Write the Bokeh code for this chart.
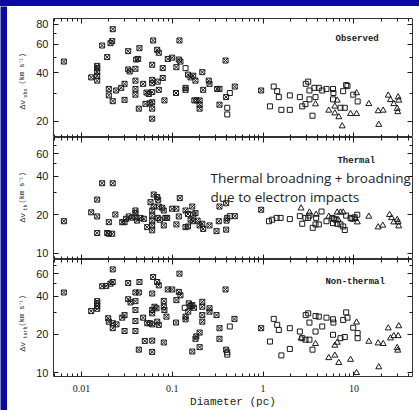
import math
from bokeh.plotting import figure
from bokeh.models import Range1d, LogAxis, FixedTicker, NumeralTickFormatter, Label, CustomJSTickFormatter, Div
from bokeh.layouts import column, row
from bokeh.embed import file_html
from bokeh.resources import INLINE
from bokeh.core.properties import value

# ---------------- data (diameter in pc, line width in km/s) ----------------
OBS_CLUMP = [(0.0064, 47.0), (0.0128, 37.5), (0.0149, 44.2), (0.0149, 42.8), (0.0149, 40.4), (0.0149, 38.4), (0.0149, 35.8),
             (0.0169, 59.1), (0.0192, 50.1), (0.0200, 31.8), (0.0200, 29.0), (0.0221, 26.7), (0.0209, 61.1), (0.0218, 62.9), (0.0221, 74.6),
             (0.0241, 31.1), (0.0274, 32.3), (0.0298, 34.2), (0.0298, 27.2), (0.0327, 54.5), (0.0327, 42.0), (0.0340, 40.8),
             (0.0393, 42.4), (0.0393, 35.8), (0.0393, 31.8), (0.0393, 29.3), (0.0400, 48.4), (0.0421, 48.8), (0.0435, 56.9), (0.0428, 24.0),
             (0.0478, 34.2), (0.0507, 25.7), (0.0520, 30.2), (0.0551, 29.6), (0.0565, 25.9),
             (0.0601, 44.9), (0.0601, 36.2), (0.0601, 34.5), (0.0601, 30.4), (0.0601, 26.3), (0.0601, 24.0), (0.0601, 20.8),
             (0.0616, 63.5), (0.0682, 55.6), (0.0710, 53.3), (0.0692, 35.3), (0.0710, 31.4), (0.0785, 37.2), (0.0785, 42.8), (0.0820, 27.0),
             (0.0892, 48.8), (0.0997, 49.7), (0.110, 30.0), (0.111, 43.4), (0.118, 48.4), (0.123, 47.0), (0.120, 63.5),
             (0.140, 32.3), (0.140, 31.4), (0.149, 39.0), (0.159, 37.5), (0.170, 38.4), (0.180, 35.8),
             (0.175, 27.0), (0.185, 27.0), (0.200, 27.0), (0.200, 25.4), (0.200, 24.0),
             (0.219, 31.4), (0.214, 40.4), (0.252, 35.8), (0.257, 34.2), (0.312, 31.8), (0.331, 31.8), (0.331, 25.4),
             (0.386, 47.7), (0.392, 28.3), (0.488, 32.9), (0.953, 31.1)]
OBS_SQ = [(0.140, 42.8), (0.430, 30.0), (0.403, 24.3), (0.403, 22.1), (1.31, 32.9), (1.43, 30.8), (1.49, 28.3), (1.19, 24.8),
          (1.59, 23.6), (1.97, 23.6), (1.97, 29.0), (2.54, 28.3), (2.70, 24.8), (2.93, 25.6), (2.95, 34.2), (3.14, 35.3),
          (3.24, 31.1), (3.24, 27.4), (3.78, 28.3), (3.68, 32.3), (4.11, 32.3), (4.48, 31.1), (4.99, 31.8), (3.50, 21.7),
          (5.89, 31.8), (5.95, 30.0), (5.89, 27.4), (7.12, 24.3), (7.94, 24.3), (7.62, 30.8), (8.22, 33.6), (8.50, 33.2),
          (9.83, 29.3), (11.0, 26.6)]
OBS_TRI = [(3.78, 25.6), (6.55, 27.0), (6.17, 24.8), (5.29, 23.4), (6.17, 22.5), (6.82, 21.3), (7.43, 18.7), (10.7, 30.0),
           (9.18, 22.3), (10.7, 22.3), (14.6, 25.7), (18.5, 23.2), (21.0, 23.4), (18.8, 19.1), (23.9, 29.0), (25.3, 27.2),
           (27.5, 25.7), (30.7, 28.3), (31.2, 27.0), (30.0, 24.0), (30.4, 22.9)]

TH_CLUMP = [(0.0064, 17.8), (0.0128, 20.9), (0.0149, 19.4), (0.0149, 26.3), (0.0149, 14.4), (0.0169, 35.3), (0.0221, 35.3),
            (0.0192, 14.4), (0.0200, 14.2), (0.0218, 14.2), (0.0200, 17.5), (0.0236, 20.1), (0.0281, 17.5), (0.0298, 17.5),
            (0.0310, 18.6), (0.0332, 19.4), (0.0362, 19.0), (0.0393, 19.1), (0.0393, 21.6), (0.0393, 20.6), (0.0410, 18.0),
            (0.0447, 18.9), (0.0486, 18.6), (0.0529, 16.0), (0.0576, 25.1),
            (0.0601, 21.6), (0.0601, 19.7), (0.0601, 18.0), (0.0601, 16.5), (0.0601, 15.1),
            (0.0625, 28.8), (0.0682, 27.5), (0.0700, 26.2), (0.0625, 23.2), (0.0710, 23.2), (0.0775, 22.7), (0.0692, 18.9), (0.0728, 18.3),
            (0.0806, 21.6), (0.0841, 18.9), (0.0879, 18.9), (0.0806, 16.5), (0.0997, 22.3), (0.111, 22.3), (0.111, 16.8), (0.121, 27.0),
            (0.118, 19.4), (0.140, 21.6), (0.149, 20.3), (0.140, 16.0), (0.149, 16.2), (0.166, 23.2), (0.170, 20.1), (0.180, 20.6),
            (0.159, 18.3), (0.170, 17.8), (0.190, 18.0), (0.200, 16.5), (0.219, 15.5), (0.214, 17.0), (0.257, 16.5), (0.307, 14.9),
            (0.331, 23.2), (0.392, 24.6), (0.325, 17.8), (0.396, 18.0), (0.403, 18.9), (0.392, 15.3), (0.488, 19.5), (0.953, 21.9)]
TH_SQ = [(0.430, 19.5), (1.16, 17.8), (1.26, 18.3), (1.41, 18.9), (1.56, 18.9), (1.97, 18.5), (2.54, 19.5), (2.70, 17.0),
         (2.93, 18.9), (3.14, 18.9), (3.24, 19.7), (3.52, 15.8), (3.78, 16.8), (4.11, 16.8), (3.84, 18.9), (4.40, 21.2),
         (4.99, 17.8), (5.78, 18.9), (6.02, 18.6), (6.29, 18.3), (5.89, 17.2), (6.55, 17.0), (7.12, 16.8), (7.62, 16.2),
         (7.94, 15.2), (8.22, 19.7), (9.18, 18.9), (9.59, 18.6), (10.2, 19.1), (10.9, 20.0)]
TH_TRI = [(2.62, 22.5), (3.24, 20.9), (3.84, 20.1), (5.29, 19.4), (6.55, 20.9), (7.12, 20.9), (7.62, 20.9), (6.71, 18.3),
          (10.4, 18.6), (10.9, 17.5), (14.6, 19.4), (18.5, 16.0), (20.8, 16.5), (24.7, 20.0), (26.0, 18.9), (27.5, 17.5),
          (30.0, 18.3), (30.7, 17.5), (31.2, 16.3)]

NT_CLUMP = [(0.0064, 42.7), (0.0221, 64.8), (0.0169, 47.8), (0.0187, 48.1), (0.0209, 50.1), (0.0221, 51.6), (0.0327, 50.7), (0.0435, 51.6),
            (0.0128, 30.5), (0.0149, 36.5), (0.0149, 35.1), (0.0149, 33.4), (0.0149, 31.8),
            (0.0197, 26.8), (0.0200, 25.2), (0.0221, 24.5), (0.0221, 22.4), (0.0243, 24.0), (0.0281, 27.1), (0.0298, 28.4), (0.0298, 21.3),
            (0.0327, 37.8), (0.0347, 35.7), (0.0393, 42.7), (0.0428, 42.7), (0.0393, 36.5), (0.0393, 31.1), (0.0393, 25.5), (0.0393, 21.3),
            (0.0428, 15.2), (0.0478, 27.1), (0.0498, 17.8), (0.0530, 24.5), (0.0565, 24.5), (0.0601, 24.0), (0.0601, 29.3), (0.0601, 31.1),
            (0.0601, 17.9), (0.0601, 14.6), (0.0616, 56.5), (0.0601, 41.9), (0.0637, 33.0), (0.0670, 32.1), (0.0682, 51.6), (0.0710, 48.6),
            (0.0682, 25.2), (0.0710, 23.8), (0.0806, 36.7), (0.0806, 33.0), (0.0820, 31.1), (0.0806, 17.3), (0.0863, 27.6), (0.0892, 45.1),
            (0.0997, 45.1), (0.111, 37.2), (0.110, 24.8), (0.120, 60.0), (0.118, 43.2), (0.123, 40.6), (0.140, 27.6), (0.140, 26.3),
            (0.152, 35.1), (0.159, 33.4), (0.166, 34.0), (0.173, 32.4), (0.150, 30.2), (0.166, 14.7), (0.180, 18.5), (0.184, 19.3),
            (0.200, 20.7), (0.200, 15.9), (0.214, 36.1), (0.214, 33.0), (0.214, 28.4), (0.214, 25.2), (0.257, 32.1), (0.257, 30.2),
            (0.307, 28.4), (0.331, 22.4), (0.331, 18.5), (0.386, 45.1), (0.392, 15.2), (0.484, 26.5), (0.953, 22.4)]
NT_SQ = [(0.137, 32.4), (0.403, 14.5), (0.403, 13.9), (0.430, 23.1), (1.31, 26.5), (1.43, 23.8), (1.49, 21.7), (1.19, 17.6),
         (1.59, 13.7), (1.97, 15.4), (1.97, 22.4), (2.54, 21.1), (2.70, 18.7), (2.93, 18.2), (2.95, 28.4), (3.14, 29.3),
         (3.24, 24.8), (3.24, 18.2), (3.50, 15.2), (3.78, 21.1), (3.78, 27.9), (4.11, 27.6), (4.48, 23.1), (4.99, 27.1),
         (5.89, 26.3), (5.95, 24.8), (5.89, 19.9), (7.12, 18.7), (7.94, 19.1), (7.62, 26.0), (8.22, 29.8), (8.50, 27.1),
         (9.83, 22.6), (11.0, 18.7), (11.0, 20.5)]
NT_TRI = [(2.62, 18.7), (3.78, 16.9), (5.29, 13.1), (6.17, 13.7), (6.55, 17.3), (6.17, 16.4), (6.82, 12.0), (9.18, 12.7),
          (10.7, 10.0), (10.7, 24.9), (14.6, 17.6), (18.5, 17.1), (21.0, 16.9), (18.8, 11.1), (23.9, 22.4), (25.3, 18.7),
          (27.5, 19.5), (31.2, 23.3), (30.7, 19.5), (30.0, 15.7), (30.4, 15.0)]

PANEL_TITLES = ["Observed", "Thermal", "Non-thermal"]
Y_SUBSCRIPTS = ["obs", "th", "turb"]
X_TICKS = [0.01, 0.1, 1, 10]
Y_TICKS_TOP = [20, 40, 60, 80]
Y_TICKS_LOW = [10, 20, 40, 60]
Y_MINOR = [30, 50, 70]
NOTE_LINES = ["Thermal broadning + broadning", "due to electron impacts"]
X_TITLE = "Diameter (pc)"

# ---------------- styling ----------------
INK = "#1a1a1a"
SLIDE_BLUE = "#0a0aa2"
PANEL_W = 389
X_MINOR = [m * 10.0 ** e for e in range(-3, 2) for m in range(2, 10)]


def bare_fig(w, h, xr=None, yr=None):
    f = figure(width=w, height=h, output_backend="svg", toolbar_location=None,
               x_axis_location=None, y_axis_location=None,
               x_range=xr if xr is not None else Range1d(0, 1),
               y_range=yr if yr is not None else Range1d(0, 1),
               min_border=0)
    f.grid.visible = False
    f.outline_line_color = None
    return f


def style_ticks(ax, show_labels):
    ax.axis_line_color = None
    ax.major_tick_in = 5
    ax.major_tick_out = 0
    ax.minor_tick_in = 3
    ax.minor_tick_out = 0
    ax.major_tick_line_color = INK
    ax.minor_tick_line_color = INK
    if not show_labels:
        ax.formatter = CustomJSTickFormatter(code="return '';")
        ax.major_label_standoff = 0


def make_panel(h, ylo, yhi, ymajor, top, bottom, xlabels):
    p = figure(width=PANEL_W, height=h, x_axis_type="log", y_axis_type="log",
               x_range=Range1d(0.00492, 44.2), y_range=Range1d(ylo, yhi),
               output_backend="svg", toolbar_location=None,
               min_border_left=23, min_border_right=7, min_border_top=top, min_border_bottom=bottom)
    p.grid.visible = False
    p.background_fill_color = "white"
    p.border_fill_color = "white"
    p.outline_line_color = "#333333"
    p.outline_line_width = 1

    xa = p.xaxis[0]
    xa.ticker = FixedTicker(ticks=X_TICKS, minor_ticks=X_MINOR)
    xa.formatter = NumeralTickFormatter(format="0.[00]")
    style_ticks(xa, xlabels)
    if xlabels:
        xa.major_label_text_font = "Liberation Serif"
        xa.major_label_text_font_size = "10px"
        xa.major_label_text_color = INK
        xa.major_label_standoff = 8
        xa.axis_label = X_TITLE
        xa.axis_label_text_font = "Liberation Mono"
        xa.axis_label_text_font_size = "11px"
        xa.axis_label_text_font_style = "normal"
        xa.axis_label_text_color = INK
        xa.axis_label_standoff = 1

    ya = p.yaxis[0]
    ya.ticker = FixedTicker(ticks=ymajor, minor_ticks=Y_MINOR)
    ya.formatter = NumeralTickFormatter(format="0")
    style_ticks(ya, True)
    ya.major_label_text_font = "Liberation Sans"
    ya.major_label_text_font_size = "11px"
    ya.major_label_text_color = INK
    ya.major_label_standoff = 5

    top_ax = LogAxis(ticker=FixedTicker(ticks=X_TICKS, minor_ticks=X_MINOR))
    style_ticks(top_ax, False)
    p.add_layout(top_ax, "above")
    right_ax = LogAxis(ticker=FixedTicker(ticks=ymajor, minor_ticks=Y_MINOR))
    style_ticks(right_ax, False)
    p.add_layout(right_ax, "right")
    return p


def add_points(p, clump, sq, tri):
    p.scatter([d for d, _ in clump], [v for _, v in clump], marker="square_x", size=5,
              fill_color=None, line_color=INK, line_width=1)
    p.scatter([d for d, _ in sq], [v for _, v in sq], marker="square", size=5,
              fill_color=None, line_color=INK, line_width=1)
    p.scatter([d for d, _ in tri], [v for _, v in tri], marker="triangle", size=6,
              fill_color=None, line_color=INK, line_width=1)


def add_title(p, text, x, y):
    p.add_layout(Label(x=x, y=y, text=text, text_font="Liberation Mono", text_font_size="9px",
                       text_font_style="bold", text_baseline="middle", text_align="left", text_color=INK))


# slide frame pieces
top_strip = Div(text="", width=419, height=6, margin=0,
                styles={"background-color": SLIDE_BLUE, "overflow": "hidden"})
side_strip = bare_fig(7, 404)
side_strip.background_fill_color = SLIDE_BLUE
side_strip.border_fill_color = SLIDE_BLUE

# y-axis titles (page-pixel coordinate space: x 7..30, y 410 at bottom .. 6 at top)
ylab = bare_fig(23, 404, Range1d(7, 30), Range1d(410, 6))
ylab.background_fill_color = "white"
ylab.border_fill_color = "white"
YLAB_MAIN_X = [21.5, 21.5, 21.5]
YLAB_SUB_X = [25.0, 25.0, 25.0]
YLAB_DV_Y = [109, 222, 351]
YLAB_SUB_Y = [97, 210, 338]
YLAB_UNIT_Y = [84, 203, 326]
ylab.text(x=YLAB_MAIN_X, y=YLAB_DV_Y, text=["Δv"] * 3, angle=math.pi / 2,
          text_font=value("Liberation Mono"), text_font_size="8px", text_color=INK,
          text_align="left", text_baseline="middle")
ylab.text(x=YLAB_SUB_X, y=YLAB_SUB_Y, text=Y_SUBSCRIPTS, angle=math.pi / 2,
          text_font=value("Liberation Mono"), text_font_size="5px", text_color=INK,
          text_align="left", text_baseline="middle")
ylab.text(x=YLAB_MAIN_X, y=YLAB_UNIT_Y, text=["(km s⁻¹)"] * 3, angle=math.pi / 2,
          text_font=value("Liberation Mono"), text_font_size="7px", text_color=INK,
          text_align="left", text_baseline="middle")

p1 = make_panel(131, 15.9, 86.9, Y_TICKS_TOP, 12, 0, False)
add_points(p1, OBS_CLUMP, OBS_SQ, OBS_TRI)
add_title(p1, PANEL_TITLES[0], 6.27, 65.3)

p2 = make_panel(122, 8.93, 80.5, Y_TICKS_LOW, 0, 0, False)
add_points(p2, TH_CLUMP, TH_SQ, TH_TRI)
add_title(p2, PANEL_TITLES[1], 6.59, 52.5)
for txt, yy in zip(NOTE_LINES, [38.9, 27.4]):
    p2.add_layout(Label(x=0.264, y=yy, text=txt, text_font="Open Sans", text_font_size="13.5px",
                        text_color="#222222", text_baseline="middle", text_align="left"))

p3 = make_panel(151, 9.36, 77.5, Y_TICKS_LOW, 0, 33, True)
add_points(p3, NT_CLUMP, NT_SQ, NT_TRI)
add_title(p3, PANEL_TITLES[2], 4.86, 51.3)

panels = column(p1, p2, p3, spacing=0)
layout = column(top_strip, row(side_strip, ylab, panels, spacing=0), spacing=0)
open("out.html", "w").write(file_html(layout, INLINE))
